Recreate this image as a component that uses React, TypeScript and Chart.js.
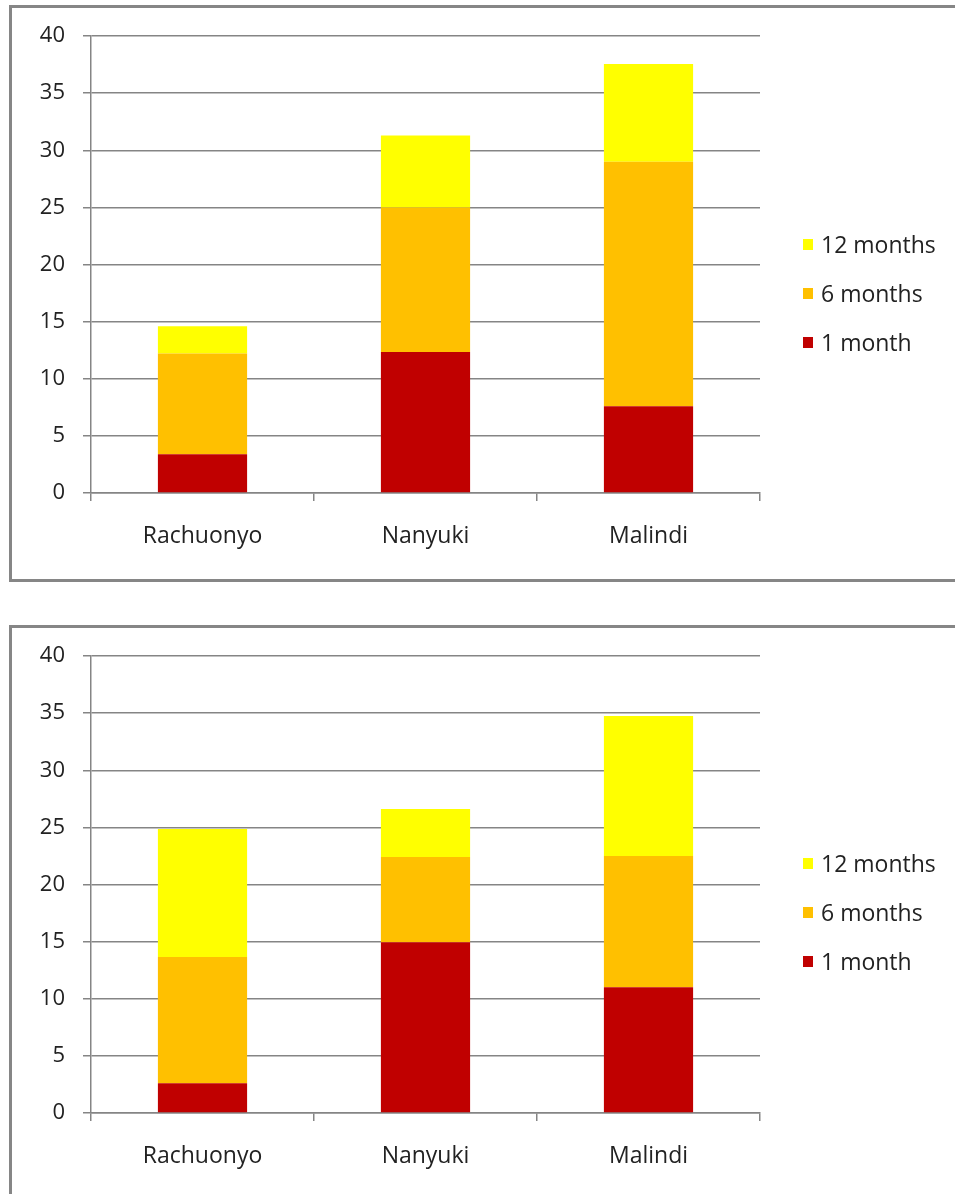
import React, { useEffect, useRef } from "react";
import { Chart, registerables } from "chart.js";

Chart.register(...registerables);

// ---- data ----
const categories = ["Rachuonyo", "Nanyuki", "Malindi"];
const seriesNames = ["1 month", "6 months", "12 months"];
const seriesColors = ["#C00000", "#FFC000", "#FFFF00"];

const topOneMonth = [3.4, 12.35, 7.6];
const topSixMonths = [8.8, 12.65, 21.4];
const topTwelveMonths = [2.4, 6.3, 8.55];

const bottomOneMonth = [2.6, 14.95, 11.0];
const bottomSixMonths = [11.05, 7.45, 11.5];
const bottomTwelveMonths = [11.2, 4.2, 12.25];

const yTickValues = [0, 5, 10, 15, 20, 25, 30, 35, 40];

// ---- style ----
const FONT = "'Open Sans', 'Noto Sans', sans-serif";
const GRID = "#858585";
const TEXT = "#222222";

type ChartProps = {
  series: number[][];
  top: number;
  height: number;
  padTop: number;
  padBottom: number;
};

function StackedChart({ series, top, height, padTop, padBottom }: ChartProps) {
  const ref = useRef<HTMLCanvasElement>(null);
  useEffect(() => {
    const chart = new Chart(ref.current as HTMLCanvasElement, {
      type: "bar",
      data: {
        labels: categories,
        datasets: series.map((d, i) => ({
          label: seriesNames[i],
          data: d,
          backgroundColor: seriesColors[i],
          borderWidth: 0,
          categoryPercentage: 1,
          barPercentage: 0.4,
        })),
      },
      options: {
        animation: false,
        responsive: false,
        maintainAspectRatio: false,
        layout: { padding: { left: 0, right: 195, top: padTop, bottom: padBottom } },
        plugins: { legend: { display: false }, tooltip: { enabled: false } },
        scales: {
          x: {
            stacked: true,
            offset: true,
            grid: {
              display: true,
              drawOnChartArea: false,
              drawTicks: true,
              tickLength: 8,
              color: GRID,
              lineWidth: 1.5,
            },
            border: { display: true, color: GRID, width: 1.5 },
            ticks: { padding: 22, color: TEXT, font: { family: FONT, size: 23 } },
            afterFit: (s: any) => {
              s.height = 60;
            },
          },
          y: {
            stacked: true,
            min: 0,
            max: 40,
            afterBuildTicks: (s: any) => {
              s.ticks = yTickValues.map((v) => ({ value: v }));
            },
            ticks: { padding: 18, color: TEXT, font: { family: FONT, size: 22 } },
            grid: { color: GRID, lineWidth: 1.5, tickLength: 8 },
            border: { display: true, color: GRID, width: 1.5 },
            afterFit: (s: any) => {
              s.width = 91;
            },
          },
        },
      },
    });
    return () => chart.destroy();
  }, []);
  return (
    <canvas
      ref={ref}
      width={955}
      height={height}
      style={{ position: "absolute", left: 0, top, width: 955, height }}
    />
  );
}

function Legend({ top }: { top: number }) {
  const order = [2, 1, 0];
  const centers = [244, 293, 342];
  return (
    <>
      {order.map((idx, k) => (
        <div
          key={idx}
          style={{
            position: "absolute",
            left: 803,
            top: top + centers[k] - 15,
            height: 30,
            display: "flex",
            alignItems: "center",
            fontFamily: FONT,
            fontSize: 23,
            color: TEXT,
            whiteSpace: "nowrap",
          }}
        >
          <span
            style={{
              display: "inline-block",
              width: 10,
              height: 11,
              background: seriesColors[idx],
              marginRight: 8,
            }}
          />
          <span>{seriesNames[idx]}</span>
        </div>
      ))}
    </>
  );
}

export default function App() {
  return (
    <div
      style={{
        position: "absolute",
        left: 0,
        top: 0,
        width: 955,
        height: 1194,
        overflow: "hidden",
        background: "#ffffff",
      }}
    >
      <div
        style={{
          position: "absolute",
          left: 9,
          top: 5,
          width: 980,
          height: 571,
          border: "3px solid #868686",
        }}
      />
      <div
        style={{
          position: "absolute",
          left: 9,
          top: 625,
          width: 980,
          height: 620,
          border: "3px solid #868686",
        }}
      />
      <StackedChart
        series={[topOneMonth, topSixMonths, topTwelveMonths]}
        top={0}
        height={600}
        padTop={36}
        padBottom={47}
      />
      <Legend top={0} />
      <StackedChart
        series={[bottomOneMonth, bottomSixMonths, bottomTwelveMonths]}
        top={620}
        height={574}
        padTop={36}
        padBottom={21}
      />
      <Legend top={619} />
    </div>
  );
}
